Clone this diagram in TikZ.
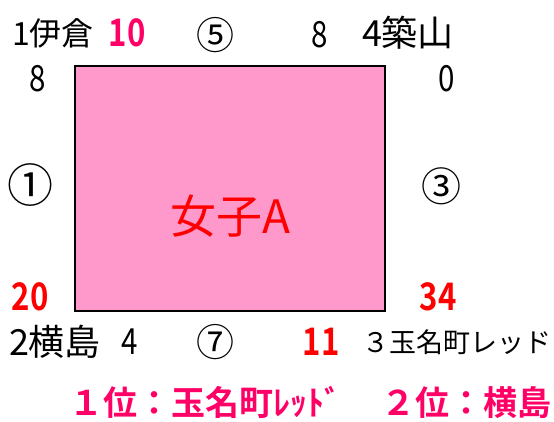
\documentclass[tikz,border=0pt]{standalone}
\usepackage{fontspec}
\setmainfont{Noto Sans CJK JP}[BoldFont={Noto Sans CJK JP Bold}]
\newfontfamily\numfont{Noto Sans CJK JP}[FakeStretch=0.82,BoldFont={Noto Sans CJK JP Bold}]
\definecolor{courtpink}{HTML}{FF99CC}
\definecolor{rankpink}{HTML}{FF0066}
\definecolor{ptred}{HTML}{FF0000}

\begin{document}
\begin{tikzpicture}[x=1pt,y=-1pt,
    team/.style={inner sep=0pt,font=\fontsize{32}{32}\selectfont},
    score/.style={inner sep=0pt,font=\fontsize{36}{36}\numfont},
    hot/.style={inner sep=0pt,font=\fontsize{38}{38}\numfont\bfseries,text=ptred},
    match/.style={inner sep=0pt,font=\fontsize{38}{38}\selectfont},
    rank/.style={inner sep=0pt,text height=29pt,text depth=4pt,font=\fontsize{34}{34}\selectfont\bfseries,text=rankpink}]
                \useasboundingbox (0,0) rectangle (554,421);
                % court
                \node[draw=black,line width=1.5pt,fill=courtpink,minimum width=310pt,minimum height=245pt,inner sep=0pt] (court) at (230,188.5) {};
                \node[inner sep=0pt,text=ptred,font=\fontsize{46}{46}\selectfont] (group) at (230,216) {女子A};

                % top side
                \node[team] (ikura) at (53,33) {1伊倉};
                \node[hot,text=rankpink] (ikurapts) at (127,33) {10};
                \node[match] (m5) at (215,35) {⑤};
                \node[score] (tsukipts) at (320,35) {8};
                \node[team,font=\fontsize{36}{36}\selectfont] (tsuki) at (408,33) {4築山};

                % corners
                \node[score] (ikuraleft) at (38,79) {8};
                \node[score] (tsukiright) at (447,79) {0};
                \node[hot] (yokopts) at (30,297) {20};
                \node[hot] (tamapts) at (438,297) {34};

                % left and right
                \node[match,font=\fontsize{46}{46}\selectfont] (m1) at (30,185) {①};
                \node[match,font=\fontsize{40}{40}\selectfont] (m3) at (441,186) {③};

                % bottom side
                \node[team,font=\fontsize{36}{36}\selectfont] (yoko) at (55,342) {2横島};
                \node[score] (yokobot) at (130,342) {4};
                \node[match] (m7) at (215,342) {⑦};
                \node[hot] (tamabot) at (321,342) {11};
                \node[team,font=\fontsize{27}{27}\selectfont] (tama) at (457,342) {３玉名町レッド};

                % ranking
                \node[rank] (first) at (205,403) {１位：玉名町ﾚｯﾄﾞ};
                \node[rank] (second) at (466,403) {２位：横島};
\end{tikzpicture}
\end{document}
